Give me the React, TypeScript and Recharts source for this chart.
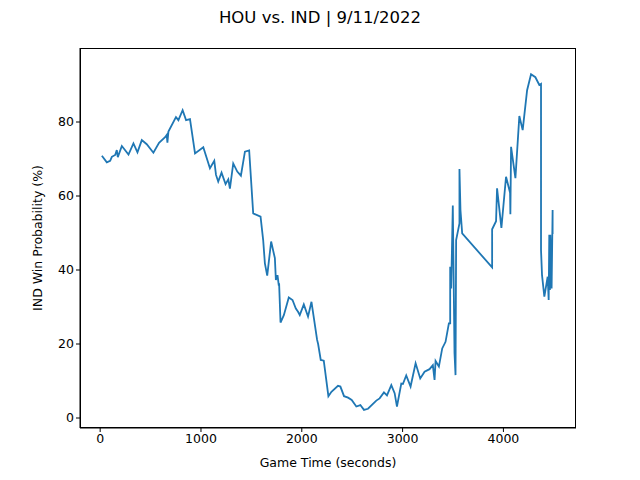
import React from 'react';
import { LineChart, Line, XAxis, YAxis, Label } from 'recharts';

const gameTime = [17, 66, 99, 116, 149, 165, 175, 215, 281, 330, 370, 413, 462, 528, 584, 644, 660, 667, 677, 752, 776, 818, 852, 891, 941, 1023, 1089, 1132, 1149, 1171, 1204, 1244, 1271, 1287, 1320, 1360, 1396, 1436, 1478, 1518, 1591, 1617, 1634, 1657, 1696, 1733, 1743, 1759, 1772, 1775, 1789, 1822, 1871, 1908, 1941, 1963, 1980, 2020, 2062, 2096, 2152, 2162, 2188, 2218, 2264, 2294, 2359, 2383, 2419, 2459, 2495, 2541, 2581, 2617, 2657, 2739, 2772, 2815, 2845, 2888, 2921, 2944, 2987, 3003, 3036, 3079, 3129, 3175, 3218, 3267, 3300, 3317, 3327, 3360, 3393, 3426, 3459, 3472, 3472, 3482, 3498, 3515, 3525, 3531, 3564, 3564, 3574, 3591, 3888, 3888, 3927, 3937, 3980, 4026, 4066, 4069, 4076, 4119, 4158, 4191, 4235, 4274, 4317, 4356, 4373, 4373, 4383, 4406, 4439, 4449, 4455, 4461, 4465, 4478, 4488, 4488];
const winProb = [70.9, 69.1, 69.5, 70.6, 71.1, 72.4, 70.5, 73.5, 71.2, 74.2, 71.8, 75.1, 74, 71.7, 74.4, 75.9, 76.5, 74.4, 77.4, 81.3, 80.5, 83.2, 80.5, 80.8, 71.5, 73.2, 67.5, 69.5, 65.7, 63.9, 66.3, 63.2, 64.5, 62, 68.8, 66.6, 65.5, 72, 72.3, 55.3, 54.4, 48.1, 41.8, 38.5, 47.7, 43.2, 37.3, 38.6, 35.8, 36.4, 25.8, 27.8, 32.6, 31.9, 29.6, 28.7, 27.8, 30.7, 27.4, 31.4, 21.1, 20, 15.7, 15.5, 5.9, 7.1, 8.7, 8.5, 5.9, 5.5, 4.9, 3.1, 3.5, 2.2, 2.5, 4.7, 5.3, 6.9, 6.1, 8.9, 6.7, 3.1, 9.3, 9.2, 11.5, 8.5, 14.8, 10.7, 12.5, 13.2, 14.3, 10.3, 15.4, 13.9, 18.8, 20.6, 25.6, 25.6, 40.9, 35, 57.4, 17.5, 11.6, 48.1, 52.6, 67.3, 56.2, 49.9, 40.7, 51, 53.2, 62.1, 51.4, 65.2, 60.9, 55.1, 73.3, 64.8, 81.6, 77.8, 88.6, 92.9, 92.1, 90, 90.3, 45.4, 38.6, 32.8, 38.2, 31.9, 49.5, 34.6, 49.5, 35, 56.2, 49.7];
const xTicks = [0, 1000, 2000, 3000, 4000];
const yTicks = [0, 20, 40, 60, 80];

const data = gameTime.map((t, i) => ({ t, p: winProb[i] }));
const font = 'DejaVu Sans';
const tick = { fill: '#000', fontSize: 12.5, fontFamily: font };

export default function App() {
  return (
    <div style={{ position: 'relative', width: 640, height: 480, margin: -8, background: '#fff' }}>
      <div style={{ position: 'absolute', top: 8, width: 640, textAlign: 'center', fontFamily: font, fontSize: 16.5 }}>
        HOU vs. IND | 9/11/2022
      </div>
      <LineChart width={640} height={480} data={data} margin={{ top: 48, right: 64, left: 0, bottom: 0 }}>
        <XAxis
          dataKey="t"
          type="number"
          domain={[-200, 4720]}
          ticks={xTicks}
          height={52}
          tick={tick}
          stroke="#000"
          tickSize={4}
          allowDataOverflow
        >
          <Label value="Game Time (seconds)" position="insideBottom" offset={13} style={tick} />
        </XAxis>
        <YAxis
          type="number"
          domain={[-2.7, 100]}
          ticks={yTicks}
          width={80}
          tick={tick}
          stroke="#000"
          tickSize={4}
          allowDataOverflow
        >
          <Label value="IND Win Probability (%)" angle={-90} position="insideLeft" offset={38} style={{ ...tick, textAnchor: 'middle' }} />
        </YAxis>
        <Line dataKey="p" stroke="#1f77b4" strokeWidth={1.8} dot={false} isAnimationActive={false} type="linear" />
      </LineChart>
      <div style={{ position: 'absolute', left: 80, top: 48, width: 496, height: 380, border: '1px solid #000', boxSizing: 'border-box', pointerEvents: 'none' }} />
    </div>
  );
}
